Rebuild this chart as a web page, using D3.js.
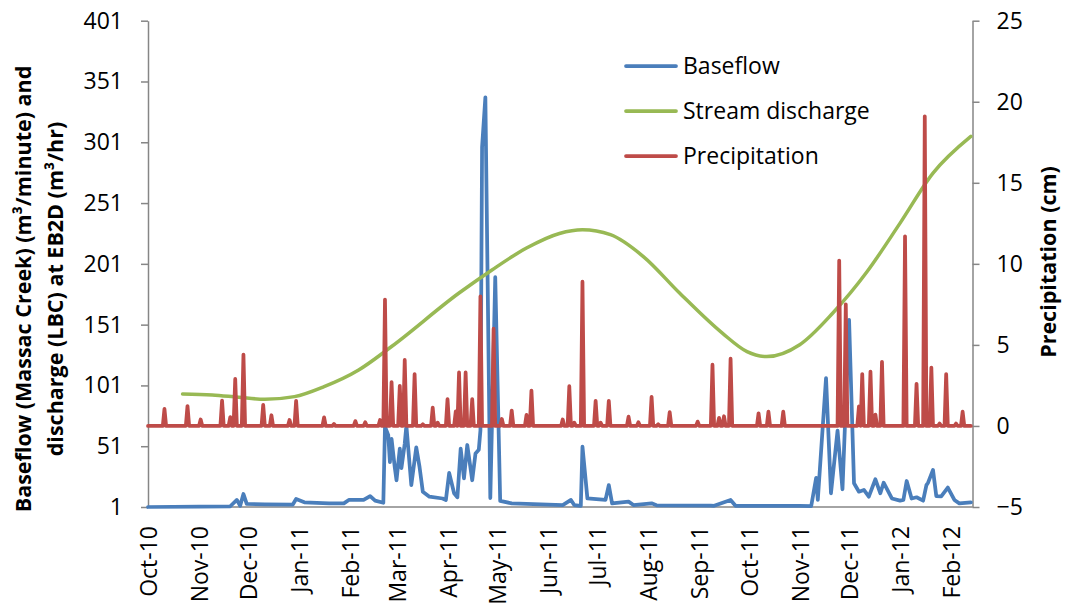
<!DOCTYPE html>
<html>
<head>
<meta charset="utf-8">
<title>Baseflow, stream discharge and precipitation</title>
<script src="https://d3js.org/d3.v7.min.js"></script>
<style>
  body { margin: 0; background: #fff; }
  text { font-family: "Open Sans", Lato, sans-serif; fill: #000; }
</style>
</head>
<body>
<svg id="chart" width="1068" height="604"></svg>
<script>
// month labels on the x axis
var monthTicks = ["2010-10-01", "2010-11-01", "2010-12-01", "2011-01-01", "2011-02-01",
  "2011-03-01", "2011-04-01", "2011-05-01", "2011-06-01", "2011-07-01", "2011-08-01",
  "2011-09-01", "2011-10-01", "2011-11-01", "2011-12-01", "2012-01-01", "2012-02-01"]
var leftTicks = [1, 51, 101, 151, 201, 251, 301, 351, 401]
var rightTicks = [-5, 0, 5, 10, 15, 20, 25]

// baseflow (left axis)
var baseflow = [
  ["2010-10-01", 1], ["2010-11-01", 1.3], ["2010-11-20", 1.6], ["2010-11-24", 6.8],
  ["2010-11-26", 2], ["2010-11-28", 11.7], ["2010-11-30", 3.5], ["2010-12-11", 3.2],
  ["2010-12-28", 3], ["2010-12-30", 7.6], ["2011-01-04", 4.9], ["2011-01-19", 4],
  ["2011-01-28", 4], ["2011-01-31", 6.8], ["2011-02-09", 6.8], ["2011-02-13", 10],
  ["2011-02-16", 6.2], ["2011-02-21", 4.5], ["2011-02-22", 67], ["2011-02-24", 60],
  ["2011-02-25", 38], ["2011-02-26", 57], ["2011-02-28", 33], ["2011-03-01", 23],
  ["2011-03-03", 49], ["2011-03-04", 33], ["2011-03-06", 53], ["2011-03-07", 68],
  ["2011-03-10", 19], ["2011-03-13", 50], ["2011-03-15", 34], ["2011-03-17", 13.6],
  ["2011-03-21", 9.5], ["2011-03-29", 8], ["2011-03-31", 6.8], ["2011-04-02", 29],
  ["2011-04-05", 12.3], ["2011-04-07", 9], ["2011-04-09", 49], ["2011-04-11", 24.6],
  ["2011-04-13", 52], ["2011-04-16", 23], ["2011-04-18", 45], ["2011-04-20", 48],
  ["2011-04-21", 64], ["2011-04-22", 297], ["2011-04-24", 338], ["2011-04-27", 8.4],
  ["2011-04-30", 190], ["2011-05-03", 6], ["2011-05-10", 4], ["2011-06-10", 2.6],
  ["2011-06-15", 6.8], ["2011-06-17", 2.6], ["2011-06-21", 2], ["2011-06-22", 50.6],
  ["2011-06-25", 8], ["2011-07-06", 6.8], ["2011-07-08", 19], ["2011-07-10", 4],
  ["2011-07-20", 5.4], ["2011-07-23", 2.6], ["2011-08-03", 4], ["2011-08-06", 2.4],
  ["2011-09-08", 2.2], ["2011-09-10", 2], ["2011-09-20", 6.8], ["2011-09-23", 2],
  ["2011-11-01", 2], ["2011-11-08", 1.8], ["2011-11-11", 25], ["2011-11-12", 6.8],
  ["2011-11-17", 107], ["2011-11-20", 12.3], ["2011-11-24", 63.8], ["2011-11-27", 15.6],
  ["2011-12-01", 155], ["2011-12-04", 20.5], ["2011-12-07", 13.6], ["2011-12-10", 15],
  ["2011-12-13", 9.5], ["2011-12-17", 23.8], ["2011-12-20", 12.3], ["2011-12-22", 21],
  ["2011-12-27", 8], ["2012-01-01", 6.2], ["2012-01-03", 6.8], ["2012-01-05", 22.4],
  ["2012-01-08", 8], ["2012-01-11", 9], ["2012-01-15", 6.2], ["2012-01-17", 19],
  ["2012-01-18", 21], ["2012-01-21", 31.5], ["2012-01-23", 10], ["2012-01-26", 9.8],
  ["2012-01-30", 17], ["2012-02-03", 6.8], ["2012-02-06", 4], ["2012-02-13", 4.9]
]

// stream discharge (left axis)
var discharge = [
  ["2010-10-22", 94], ["2010-11-09", 93.2], ["2010-11-25", 91.3], ["2010-12-11", 89.6],
  ["2010-12-29", 91.8], ["2011-01-16", 100], ["2011-02-06", 113.7], ["2011-02-26", 133],
  ["2011-04-08", 177], ["2011-04-28", 196], ["2011-05-19", 214], ["2011-06-08", 226],
  ["2011-06-22", 229], ["2011-07-09", 225], ["2011-07-29", 207], ["2011-08-20", 177],
  ["2011-09-15", 144], ["2011-09-30", 128.8], ["2011-10-12", 124.7], ["2011-11-01", 134.5],
  ["2011-11-21", 160.4], ["2011-12-12", 194.7], ["2012-01-01", 234.5], ["2012-01-21", 275.6],
  ["2012-02-13", 305.8]
]

// rain days (right axis, cm); every other day is 0
var precipEvents = [
  ["2010-10-11", 1.05], ["2010-10-25", 1.23], ["2010-11-02", 0.4], ["2010-11-15", 1.56],
  ["2010-11-20", 0.55], ["2010-11-23", 2.9], ["2010-11-28", 4.4], ["2010-12-10", 1.3],
  ["2010-12-15", 0.66], ["2010-12-26", 0.37], ["2010-12-30", 1.54], ["2011-01-16", 0.53],
  ["2011-01-22", 0.12], ["2011-02-04", 0.3], ["2011-02-10", 0.23], ["2011-02-19", 0.37],
  ["2011-02-22", 7.8], ["2011-02-26", 2.7], ["2011-03-03", 2.47], ["2011-03-06", 4.07],
  ["2011-03-12", 3.2], ["2011-03-17", 0.1], ["2011-03-23", 1.13], ["2011-03-26", 0.2],
  ["2011-04-01", 1.66], ["2011-04-06", 0.9], ["2011-04-08", 3.3], ["2011-04-12", 3.3],
  ["2011-04-16", 1.66], ["2011-04-21", 8.0], ["2011-04-29", 6.0], ["2011-05-04", 0.43],
  ["2011-05-10", 0.95], ["2011-05-19", 0.68], ["2011-05-22", 2.18], ["2011-06-10", 0.4],
  ["2011-06-14", 2.45], ["2011-06-17", 0.2], ["2011-06-22", 8.9], ["2011-06-30", 1.54],
  ["2011-07-03", 0.2], ["2011-07-08", 1.54], ["2011-07-20", 0.57], ["2011-07-26", 0.23],
  ["2011-08-03", 1.8], ["2011-08-07", 0.1], ["2011-08-14", 0.85], ["2011-08-31", 0.27],
  ["2011-09-09", 3.78], ["2011-09-13", 0.5], ["2011-09-16", 0.6], ["2011-09-20", 4.15],
  ["2011-10-07", 0.78], ["2011-10-13", 0.88], ["2011-10-22", 0.88], ["2011-11-25", 10.2],
  ["2011-11-29", 7.5], ["2011-12-07", 1.2], ["2011-12-09", 3.2], ["2011-12-14", 3.35],
  ["2011-12-17", 0.7], ["2011-12-21", 3.95], ["2012-01-04", 11.7], ["2012-01-11", 2.6],
  ["2012-01-16", 19.1], ["2012-01-20", 3.6], ["2012-01-25", 0.15], ["2012-01-29", 3.2],
  ["2012-02-04", 0.15], ["2012-02-08", 0.88]
]

var parse = d3.timeParse("%Y-%m-%d")
var fmt = d3.timeFormat("%Y-%m-%d")
var svg = d3.select("#chart")

// plot area (window.top is taken, so these get their own names)
var plotLeft = 148, plotRight = 972.5, plotTop = 20.7, plotBottom = 507

var x = d3.scaleTime()
  .domain([parse("2010-10-01"), parse("2012-02-14")])
  .range([plotLeft, plotRight])
var yL = d3.scaleLinear().domain([1, 401]).range([plotBottom, plotTop])
var yR = d3.scaleLinear().domain([-5, 25]).range([plotBottom, plotTop])

// daily precipitation series built from the rain days
var rainByDay = new Map(precipEvents)
var days = d3.timeDay.range(parse("2010-10-01"), parse("2012-02-14"))
var precip = days.map(d => [fmt(d), rainByDay.get(fmt(d)) || 0])

var axisColor = "#868686"

// left axis
var gL = svg.append("g").attr("transform", "translate(" + plotLeft + ",0)")
  .call(d3.axisLeft(yL).tickValues(leftTicks).tickSize(7).tickSizeOuter(0).tickPadding(18))
// right axis
var gR = svg.append("g").attr("transform", "translate(" + plotRight + ",0)")
  .call(d3.axisRight(yR).tickValues(rightTicks).tickSize(7).tickSizeOuter(0).tickPadding(17))
;[gL, gR].forEach(g => {
  g.selectAll("path, line").attr("stroke", axisColor).attr("stroke-width", 1.5)
  g.selectAll("text").style("font-size", "23px").attr("fill", "#000")
  g.attr("font-family", null)
})

// bottom axis line and month labels
svg.append("line")
  .attr("x1", plotLeft).attr("x2", plotRight).attr("y1", plotBottom).attr("y2", plotBottom)
  .attr("stroke", axisColor).attr("stroke-width", 1.5)
svg.append("g").selectAll("text")
  .data(monthTicks)
  .enter()
  .append("text")
    .attr("transform", d => "translate(" + (x(parse(d)) + 1) + ",526) rotate(-90)")
    .attr("text-anchor", "end")
    .attr("dy", "0.35em")
    .style("font-size", "23px")
    .text(d => d3.timeFormat("%b-%y")(parse(d)))

// series
var lineL = d3.line().x(d => x(parse(d[0]))).y(d => yL(d[1]))
var lineR = d3.line().x(d => x(parse(d[0]))).y(d => yR(d[1]))

svg.append("path").datum(baseflow)
  .attr("d", lineL)
  .attr("fill", "none").attr("stroke", "#4A7EBB").attr("stroke-width", 3.75)
  .attr("stroke-linejoin", "round").attr("stroke-linecap", "round")
svg.append("path").datum(discharge)
  .attr("d", lineL.curve(d3.curveMonotoneX))
  .attr("fill", "none").attr("stroke", "#98B954").attr("stroke-width", 3.5)
  .attr("stroke-linecap", "round")
svg.append("path").datum(precip)
  .attr("d", lineR)
  .attr("fill", "none").attr("stroke", "#BE4B48").attr("stroke-width", 3.75)
  .attr("stroke-linejoin", "round").attr("stroke-linecap", "round")

// legend
var legend = [["Baseflow", "#4A7EBB"], ["Stream discharge", "#98B954"], ["Precipitation", "#BE4B48"]]
var lg = svg.append("g").selectAll("g")
  .data(legend)
  .enter()
  .append("g")
    .attr("transform", (d, i) => "translate(626," + (66 + i * 45) + ")")
lg.append("line").attr("x1", 0).attr("x2", 50)
  .attr("stroke", d => d[1]).attr("stroke-width", 3.75).attr("stroke-linecap", "round")
lg.append("text").attr("x", 57).attr("dy", "0.35em")
  .style("font-size", "23px")
  .text(d => d[0])

// axis titles
var tl = svg.append("text")
  .attr("transform", "translate(31,289) rotate(-90)")
  .attr("text-anchor", "middle")
  .style("font-size", "21.5px").style("font-weight", "bold")
tl.append("tspan").attr("x", 0).attr("y", 0).text("Baseflow (Massac Creek) (m³/minute) and")
tl.append("tspan").attr("x", 0).attr("y", 32).text("discharge (LBC) at EB2D (m³/hr)")

svg.append("text")
  .attr("transform", "translate(1056,262) rotate(-90)")
  .attr("text-anchor", "middle")
  .style("font-size", "21.5px").style("font-weight", "bold")
  .text("Precipitation (cm)")
</script>
</body>
</html>
